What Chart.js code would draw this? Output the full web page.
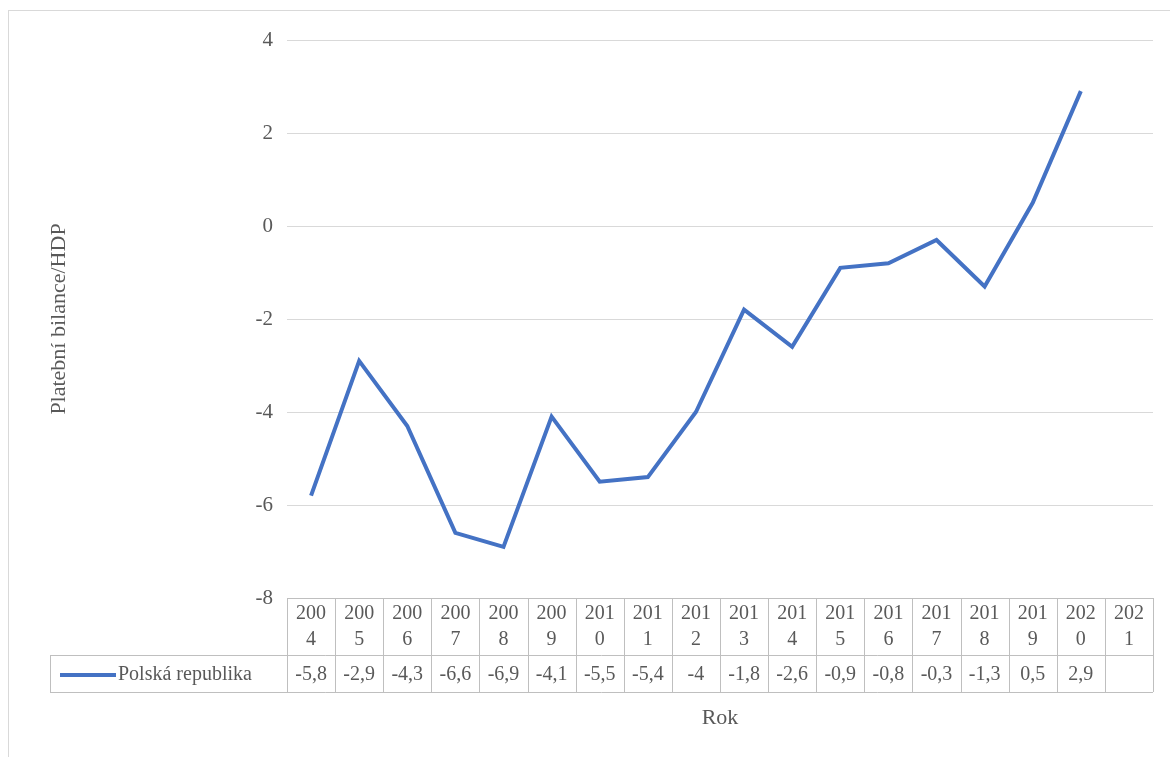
<!DOCTYPE html>
<html lang="cs">
<head>
<meta charset="UTF-8">
<title>Platební bilance</title>
<script src="https://cdn.jsdelivr.net/npm/chart.js"></script>
<style>
  body { margin: 0; background: #fff; }
</style>
</head>
<body>
<canvas id="myChart" width="1170" height="757"></canvas>
<script>
const years = ['2004','2005','2006','2007','2008','2009','2010','2011','2012','2013','2014','2015','2016','2017','2018','2019','2020','2021'];
const balance = [-5.8,-2.9,-4.3,-6.6,-6.9,-4.1,-5.5,-5.4,-4,-1.8,-2.6,-0.9,-0.8,-0.3,-1.3,0.5,2.9,null];
const seriesName = 'Polská republika';
const lineColor = '#4472C4';
const textColor = '#595959';
const fontFam = '"Liberation Serif", "Times New Roman", serif';

// draws the data table under the plot, frame and x title
const tablePlugin = {
  id: 'dataTable',
  afterDraw(chart) {
    const ctx = chart.ctx;
    const x = chart.scales.x;
    const area = chart.chartArea;
    const top = area.bottom, mid = top + 57, bot = mid + 37;
    const half = (x.getPixelForValue(1) - x.getPixelForValue(0)) / 2;
    ctx.save();
    ctx.strokeStyle = '#bfbfbf';
    ctx.lineWidth = 1;
    ctx.beginPath();
    for (let i = 0; i <= years.length; i++) {
      const px = Math.round(x.getPixelForValue(i) - half) + 0.5;
      ctx.moveTo(px, top); ctx.lineTo(px, bot);
    }
    ctx.moveTo(50.5, mid); ctx.lineTo(50.5, bot);
    ctx.moveTo(50, mid + 0.5); ctx.lineTo(area.right, mid + 0.5);
    ctx.moveTo(50, bot + 0.5); ctx.lineTo(area.right, bot + 0.5);
    ctx.stroke();

    // outer frame
    ctx.strokeStyle = '#d9d9d9';
    ctx.strokeRect(8.5, 10.5, 1170, 757);

    ctx.fillStyle = textColor;
    ctx.font = '20px ' + fontFam;
    ctx.textAlign = 'center';
    ctx.textBaseline = 'middle';
    years.forEach((y, i) => {
      const px = x.getPixelForValue(i);
      ctx.fillText(y.slice(0, 3), px, top + 16);
      ctx.fillText(y.slice(3), px, top + 42);
      const v = balance[i];
      if (v !== null) ctx.fillText(String(v).replace('.', ','), px, mid + 20);
    });

    // legend key
    ctx.strokeStyle = lineColor;
    ctx.lineWidth = 4;
    ctx.beginPath();
    ctx.moveTo(60, mid + 20); ctx.lineTo(116, mid + 20);
    ctx.stroke();
    ctx.fillStyle = textColor;
    ctx.textAlign = 'left';
    ctx.fillText(seriesName, 118, mid + 20);

    ctx.textAlign = 'center';
    ctx.font = '22px ' + fontFam;
    ctx.fillText('Rok', (area.left + area.right) / 2, 718);
    ctx.restore();
  }
};

new Chart(document.getElementById('myChart'), {
  type: 'line',
  data: {
    labels: years,
    datasets: [{
      label: seriesName,
      data: balance,
      borderColor: lineColor,
      borderWidth: 4,
      pointRadius: 0,
      tension: 0
    }]
  },
  options: {
    responsive: false,
    animation: false,
    layout: { padding: { top: 40, right: 17, bottom: 0, left: 0 } },
    plugins: { legend: { display: false }, tooltip: { enabled: false } },
    scales: {
      x: {
        offset: true,
        ticks: { display: false },
        grid: { display: false, drawTicks: false },
        border: { color: '#bfbfbf' },
        afterFit(s) { s.height = 159; }
      },
      y: {
        min: -8, max: 4,
        ticks: { stepSize: 2, color: textColor, font: { family: fontFam, size: 21 }, padding: 14 },
        grid: { color: '#d9d9d9', drawTicks: false },
        border: { display: false },
        title: { display: true, text: 'Platební bilance/HDP', color: textColor, font: { family: fontFam, size: 22 }, padding: { top: 46, bottom: 0 } },
        afterFit(s) { s.width = 287; }
      }
    }
  },
  plugins: [tablePlugin]
});
</script>
</body>
</html>
